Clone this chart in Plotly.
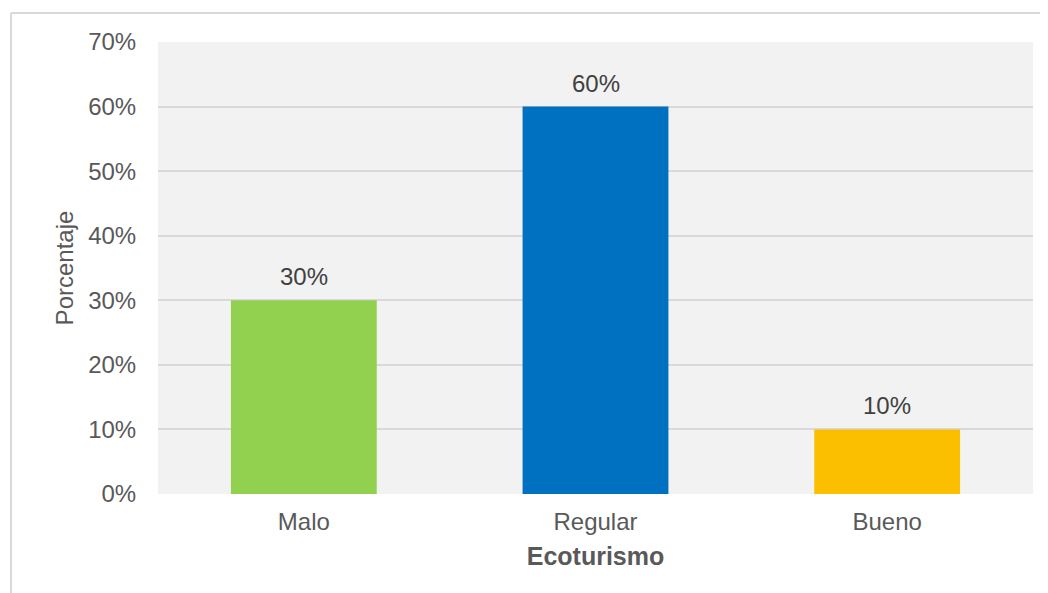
import plotly.graph_objects as go

categories = ["Malo", "Regular", "Bueno"]
values = [30, 60, 10]
colors = ["#92d050", "#0070c0", "#fbbf00"]
tick_vals = [0, 10, 20, 30, 40, 50, 60, 70]
tick_text = ["0%", "10%", "20%", "30%", "40%", "50%", "60%", "70%"]

FONT = "Liberation Sans, Arial, sans-serif"

# page body has an 8px offset; compensate so the figure fills the window
OFF = 8
W, H = 1048 - OFF, 593 - OFF
L, R, T, B = 158 - OFF, 15, 42 - OFF, 99
PW, PH = W - L - R, H - T - B

fig = go.Figure()
fig.add_trace(go.Bar(
    x=categories, y=values, marker=dict(color=colors, line=dict(width=0)),
    width=0.5, showlegend=False, hoverinfo="skip",
))

for c, v in zip(categories, values):
    fig.add_annotation(x=c, y=v, text=f"{v}%", showarrow=False, yanchor="bottom",
                       yshift=8, font=dict(family=FONT, size=24, color="#404040"))

bx = (11 - OFF - L) / PW
by_top = (H - B - (13 - OFF)) / PH

fig.update_layout(
    width=W, height=H,
    margin=dict(l=L, r=R, t=T, b=B),
    paper_bgcolor="white", plot_bgcolor="#f2f2f2",
    font=dict(family=FONT, size=24, color="#595959"),
    xaxis=dict(
        title=dict(text="<b>Ecoturismo</b>", font=dict(family=FONT, size=25, color="#595959"), standoff=13),
        showgrid=False, zeroline=False, showline=False,
        ticks="outside", ticklen=6, tickcolor="rgba(0,0,0,0)",
        tickfont=dict(family=FONT, size=24, color="#595959"),
    ),
    yaxis=dict(
        title=dict(text="Porcentaje", font=dict(family=FONT, size=24, color="#595959"), standoff=7),
        range=[0, 70], tickvals=tick_vals, ticktext=tick_text,
        showgrid=True, gridcolor="#d9d9d9", gridwidth=2,
        zeroline=False, showline=False,
        ticks="outside", ticklen=16, tickcolor="rgba(0,0,0,0)",
        tickfont=dict(family=FONT, size=24, color="#595959"),
    ),
    shapes=[
        dict(type="line", xref="paper", yref="paper",
             x0=bx, x1=1.2, y0=by_top, y1=by_top,
             line=dict(color="#d9d9d9", width=2)),
        dict(type="line", xref="paper", yref="paper",
             x0=bx, x1=bx, y0=-0.5, y1=by_top,
             line=dict(color="#d9d9d9", width=2)),
    ],
)

fig.write_html("out.html")
